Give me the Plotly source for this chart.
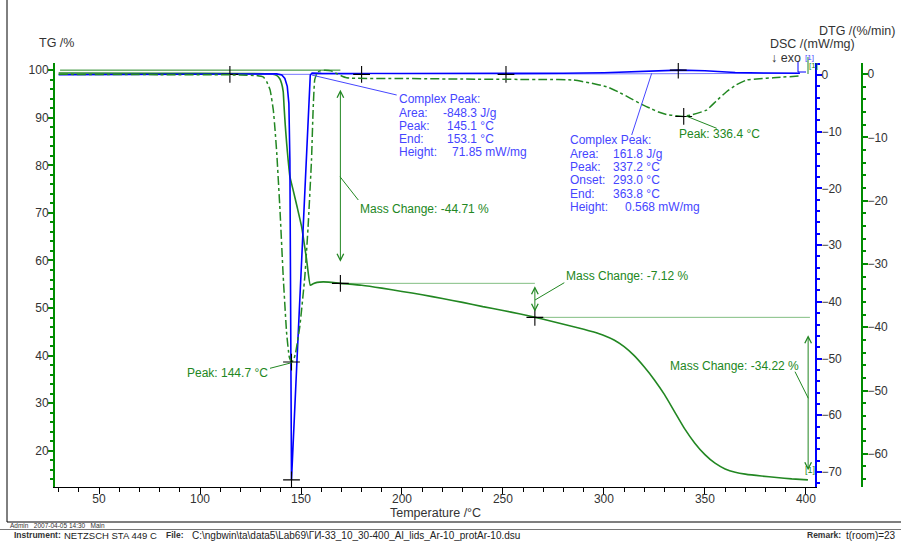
import plotly.graph_objects as go

# ---------------- data ----------------
tg_T = [30, 80, 120, 135, 137.9, 139.5, 140.4, 141.2, 141.6, 142.2, 142.9, 143.7, 144.5, 146, 148,
        150.3, 152.8, 154.6, 156, 158, 161, 165, 169.5, 180, 190, 200, 210, 220, 230, 240, 250,
        258, 266, 272, 278, 284, 290, 295, 300, 305, 310, 315, 320, 325, 330, 335, 340, 345,
        350, 355, 360, 365, 370, 378, 385.5, 393, 401]
tg_val = [99.4, 99.35, 99.3, 99.2, 98.9, 98.2, 97.2, 95.5, 92.5, 88.5, 84.6, 80.8, 77.6, 75.0, 71.4,
          67.1, 60.1, 54.8, 55.1, 55.4, 55.5, 55.4, 55.2, 54.8, 54.2, 53.5, 52.8, 52.0, 51.2, 50.3, 49.5,
          48.8, 48.05, 47.45, 46.8, 46.2, 45.55, 44.95, 44.25, 43.3, 41.9, 40.0, 37.6, 34.9, 31.8, 28.2, 24.6, 21.6,
          19.2, 17.4, 16.2, 15.5, 15.1, 14.7, 14.4, 14.1, 13.9]

dsc_T = [30, 60, 100, 130, 138, 140.5, 142, 143.2, 144, 144.5, 144.9, 145.3, 148, 151, 153.1,
         154.6, 155.5, 160, 200, 250, 280, 300, 315, 325, 337.2, 350, 365, 380, 397]
dsc_val = [0.05, 0.12, 0.2, 0.25, 0.2, 0.0, -0.6, -2.0, -5.0, -15.0, -40.0, -71.4, -50.4, -27.1, -10.8,
           0.0, 0.35, 0.3, 0.28, 0.25, 0.3, 0.4, 0.6, 0.75, 0.87, 0.75, 0.45, 0.35, 0.3]

dtg_T = [30, 80, 120, 128, 131.4, 133, 134.7, 136.3, 137.2, 138, 139.6, 141.2, 142.9, 144.2, 145.3,
         146.3, 147.3, 149.4, 151.9, 153.5, 155.2, 156, 156.8, 158, 159.3, 162, 165, 168, 172.6,
         200, 230, 260, 270, 284.8, 293, 301.3, 307, 312.9, 318, 322.8, 327, 331, 335.5, 339.5,
         344, 350.8, 355.5, 360.7, 365.5, 370.6, 377, 383.8, 397]
dtg_val = [-0.05, -0.1, -0.15, -0.25, -0.5, -1.2, -2.5, -5.7, -9.0, -12.5, -21.5, -32.0, -41.0, -44.7, -45.5,
           -45.2, -44.1, -39.9, -32.0, -24.2, -13.6, -5.7, -0.9, 0.2, 0.5, 0.6, 0.5, 0.0, -0.6,
           -0.7, -0.8, -0.85, -0.85, -0.95, -1.4, -2.0, -2.8, -3.8, -4.7, -5.4, -6.0, -6.4, -6.6, -6.7,
           -6.4, -5.7, -4.3, -2.8, -1.7, -0.95, -0.75, -0.6, -0.3]

# DSC integration baselines
base1_T = [114.8, 180.0]
base1_val = [0.12, 0.12]
base2_T = [251.5, 397.0]
base2_val = [0.15, 0.3]

# mass-change reference levels
ref1_T = [30.7, 169.5]
ref1_val = [100.0, 100.0]
ref2_T = [169.5, 265.8]
ref2_val = [55.2, 55.2]
ref3_T = [265.8, 402.0]
ref3_val = [48.05, 48.05]

# evaluation markers
cross_dsc_T = [114.8, 180.0, 251.5, 336.8, 145.3]
cross_dsc_val = [0.12, 0.12, 0.12, 0.87, -71.4]
cross_tg_T = [169.5, 265.8]
cross_tg_val = [55.2, 48.05]
cross_dtg_T = [145.3, 339.5]
cross_dtg_val = [-45.5, -6.7]

x_ticks = [50, 100, 150, 200, 250, 300, 350, 400]
tg_ticks = [20, 30, 40, 50, 60, 70, 80, 90, 100]
dsc_ticks = [0, -10, -20, -30, -40, -50, -60, -70]
dtg_ticks = [0, -10, -20, -30, -40, -50, -60]

# ---------------- styling ----------------
W, H = 901, 541
L, R, T_, B = 55, 20, 63, 54
PW = W - L - R
PH = H - T_ - B


def px(x):
    return (x - L) / PW


def py(y):
    return (H - B - y) / PH


GREEN = "rgb(34,135,34)"
GREEN_AX = "rgb(0,140,0)"
GREEN_LT = "rgb(130,190,130)"
BLUE = "rgb(0,0,255)"
BLUE_TXT = "rgb(70,70,255)"
BLUE_LT = "rgb(120,120,255)"
TXT = "#333333"
FONT = "Liberation Sans, Arial, sans-serif"
NARROW = "Liberation Sans Narrow, Arial Narrow, Liberation Sans, Arial, sans-serif"

fig = go.Figure()

# reference lines
for (xs, ys), col in [((ref1_T, ref1_val), GREEN), ((ref2_T, ref2_val), GREEN_LT), ((ref3_T, ref3_val), GREEN_LT)]:
    fig.add_trace(go.Scatter(x=xs, y=ys, mode="lines", line=dict(color=col, width=1),
                             yaxis="y", hoverinfo="skip", showlegend=False))

# DSC baselines
for xs, ys in [(base1_T, base1_val), (base2_T, base2_val)]:
    fig.add_trace(go.Scatter(x=xs, y=ys, mode="lines", line=dict(color=BLUE_LT, width=1),
                             yaxis="y2", hoverinfo="skip", showlegend=False))

# curves
fig.add_trace(go.Scatter(x=dtg_T, y=dtg_val, mode="lines", name="DTG",
                         line=dict(color=GREEN, width=1.5, dash="dashdot", shape="spline", smoothing=0.4),
                         yaxis="y3", showlegend=False))
fig.add_trace(go.Scatter(x=tg_T, y=tg_val, mode="lines", name="TG",
                         line=dict(color=GREEN, width=1.6, shape="spline", smoothing=0.4),
                         yaxis="y", showlegend=False))
fig.add_trace(go.Scatter(x=dsc_T, y=dsc_val, mode="lines", name="DSC",
                         line=dict(color=BLUE, width=1.6), yaxis="y2", showlegend=False))

# crosses
cross_marker = dict(symbol="cross-thin", size=12, color="black", line=dict(color="black", width=1.1))
fig.add_trace(go.Scatter(x=cross_dsc_T, y=cross_dsc_val, mode="markers", marker=cross_marker,
                         yaxis="y2", showlegend=False, hoverinfo="skip"))
fig.add_trace(go.Scatter(x=cross_tg_T, y=cross_tg_val, mode="markers", marker=cross_marker,
                         yaxis="y", showlegend=False, hoverinfo="skip"))
fig.add_trace(go.Scatter(x=cross_dtg_T, y=cross_dtg_val, mode="markers", marker=cross_marker,
                         yaxis="y3", showlegend=False, hoverinfo="skip"))

ann = []


def text(x, y, s, color=TXT, size=12, anchor="left", family=FONT, bold=False):
    if bold:
        s = "<b>" + s + "</b>"
    ann.append(dict(x=px(x), y=py(y), xref="paper", yref="paper", text=s, showarrow=False,
                    xanchor=anchor, yanchor="middle", font=dict(color=color, size=size, family=family)))


# axis titles
text(37, 43, "TG /%", size=12.5)
text(897, 31, "DTG /(%/min)", size=12.5, anchor="right")
text(857, 44, "DSC /(mW/mg)", size=12.5, anchor="right")
text(769, 58, "↓ exo", size=12.5)
text(435, 513, "Temperature /°C", size=12.5, anchor="center")
text(803, 58, "[1]", color=BLUE_TXT, size=8)
text(807, 66, "[1]", color=GREEN, size=8)
text(803, 470, "[1]", color=GREEN, size=9)

# complex peak 1
text(397, 99, "Complex Peak:", color=BLUE_TXT)
rows1 = [("Area:", "-848.3 J/g", 441), ("Peak:", "145.1 °C", 445), ("End:", "153.1 °C", 445),
         ("Height:", "71.85 mW/mg", 450)]
for i, (a, b, xv) in enumerate(rows1):
    yy = 112.7 + i * 13.1
    text(397, yy, a, color=BLUE_TXT)
    text(xv, yy, b, color=BLUE_TXT)

# complex peak 2
text(568, 140.5, "Complex Peak:", color=BLUE_TXT)
rows2 = [("Area:", "161.8 J/g", 611), ("Peak:", "337.2 °C", 611), ("Onset:", "293.0 °C", 611),
         ("End:", "363.8 °C", 611), ("Height:", "0.568 mW/mg", 623)]
for i, (a, b, xv) in enumerate(rows2):
    yy = 153.5 + i * 13.4
    text(568, yy, a, color=BLUE_TXT)
    text(xv, yy, b, color=BLUE_TXT)

text(677, 134, "Peak: 336.4 °C", color=GREEN)
text(270, 373, "Peak: 144.7 °C", color=GREEN, anchor="right")
text(358, 208.5, "Mass Change: -44.71 %", color=GREEN)
text(564, 276, "Mass Change: -7.12 %", color=GREEN)
text(668, 365.5, "Mass Change: -34.22 %", color=GREEN)

# mass change arrows (data coordinates)
for xa, y0, y1 in [(169.5, 95.9, 59.4), (265.8, 54.6, 48.9), (401.1, 44.3, 15.6)]:
    ann.append(dict(x=xa, y=y0, ax=xa, ay=y1, xref="x", yref="y", axref="x", ayref="y",
                    text="", showarrow=True, arrowside="end+start", arrowhead=5, startarrowhead=5,
                    arrowsize=1.3, startarrowsize=1.3, arrowwidth=1, arrowcolor=GREEN))

# bottom info
text(8, 525, "Admin &nbsp; 2007-04-05 14:30 &nbsp; Main", size=6.5, family=NARROW)
text(12, 535, "Instrument:", size=8.5, family=NARROW, bold=True)
text(62, 535, "NETZSCH STA 449 C", size=9.5, family=NARROW, color="#222222")
text(164, 535, "File:", size=8.5, family=NARROW, bold=True)
text(190, 535, "C:\\ngbwin\\ta\\data5\\Lab69\\ГИ-33_10_30-400_Al_lids_Ar-10_protAr-10.dsu", size=10,
     family=NARROW, color="#222222")
text(805, 535, "Remark:", size=8.5, family=NARROW, bold=True)
text(844, 535, "t(room)=23", size=10, family=NARROW, color="#222222")

shapes = []


def seg(x0, y0, x1, y1, color, width=1):
    shapes.append(dict(type="line", xref="paper", yref="paper", x0=px(x0), y0=py(y0), x1=px(x1), y1=py(y1),
                       line=dict(color=color, width=width)))


# leader lines
seg(311.7, 75, 396.7, 95, BLUE_TXT)
seg(651.7, 73.3, 631.7, 135, BLUE_TXT)
seg(686, 116, 716.7, 128.3, GREEN)
seg(291.7, 362.7, 270, 368.3, GREEN)
seg(340, 176.7, 358.3, 200, GREEN)
seg(535, 300, 564.3, 282.7, GREEN)
seg(795, 371.7, 808.3, 398.3, GREEN)
# end markers near top right
seg(798, 61, 798, 72, BLUE)
seg(798, 72, 806, 72, BLUE)
seg(808, 57, 808, 74, GREEN)

# frame
seg(7, 0, 7, 522, "black", 1)
seg(7, 522, 901, 522, "black", 1)
seg(0, 529.5, 901, 529.5, "#777777", 1)

axis_font = dict(family=FONT, size=12, color=TXT)

fig.update_layout(
    width=W, height=H,
    margin=dict(l=L, r=R, t=T_, b=B, pad=0),
    plot_bgcolor="white", paper_bgcolor="white",
    showlegend=False,
    xaxis=dict(domain=[0, (815 - L) / PW], range=[28.2, 404.5], tickvals=x_ticks,
               showline=True, linecolor="black", linewidth=1, ticks="outside", ticklen=6,
               tickcolor="black", showgrid=False, zeroline=False, tickfont=axis_font, ticklabelstandoff=-5,
               minor=dict(dtick=10, ticks="outside", ticklen=4, tickcolor="black")),
    yaxis=dict(range=[12.4, 101.5], tickvals=tg_ticks, showline=True, linecolor=GREEN_AX, linewidth=2,
               ticks="outside", ticklen=5, tickcolor=GREEN_AX, tickwidth=2, showgrid=False, zeroline=False,
               tickfont=axis_font, ticklabelstandoff=-3,
               minor=dict(dtick=2, ticks="outside", ticklen=3, tickcolor=GREEN_AX, tickwidth=1.5)),
    yaxis2=dict(range=[-72.66, 2.12], tickvals=dsc_ticks, overlaying="y", side="right", anchor="x",
                showline=True, linecolor=BLUE, linewidth=2, ticks="outside", ticklen=5, tickcolor=BLUE,
                tickwidth=2, showgrid=False, zeroline=False, tickfont=axis_font, ticklabelstandoff=-3,
                minor=dict(dtick=2, ticks="outside", ticklen=3, tickcolor=BLUE, tickwidth=1.5)),
    yaxis3=dict(range=[-65.24, 1.74], tickvals=dtg_ticks, overlaying="y", side="right", anchor="free",
                position=(862 - L) / PW, showline=True, linecolor=GREEN_AX, linewidth=2, ticks="outside",
                ticklen=5, tickcolor=GREEN_AX, tickwidth=2, showgrid=False, zeroline=False, tickfont=axis_font,
                ticklabelstandoff=-3,
                minor=dict(dtick=2, ticks="outside", ticklen=3, tickcolor=GREEN_AX, tickwidth=1.5)),
    annotations=ann,
    shapes=shapes,
)

fig.write_html("out.html", config={"displayModeBar": False},
               post_script="document.body.style.margin='0px';document.body.style.padding='0px';"
                           "document.documentElement.style.overflow='hidden';")
